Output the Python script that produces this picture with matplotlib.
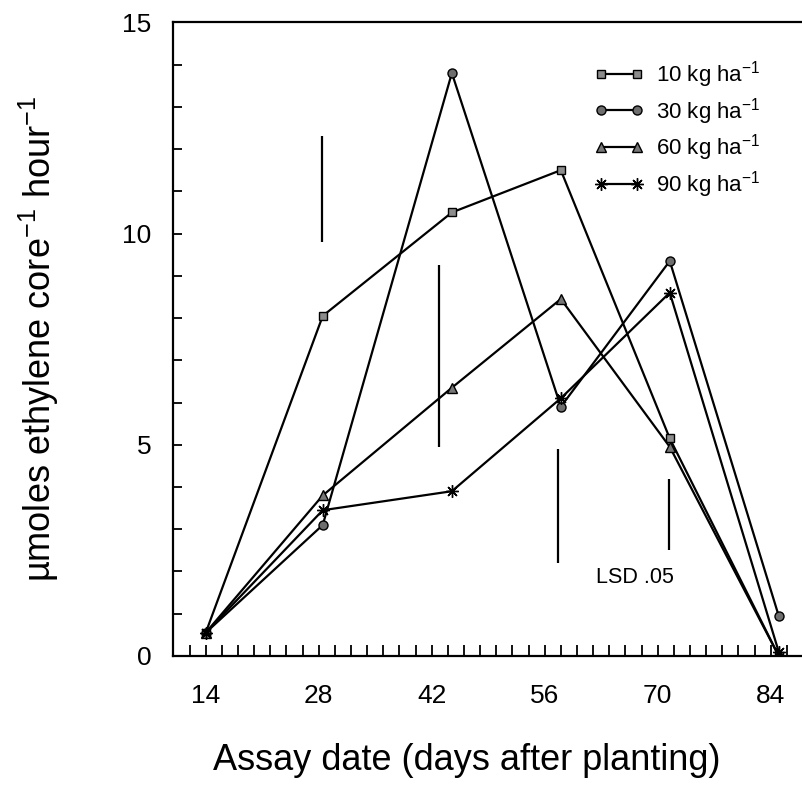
import numpy as np
import matplotlib
matplotlib.use('Agg')
import matplotlib.pyplot as plt
from matplotlib.ticker import MultipleLocator, FixedLocator

plt.rcParams['font.family'] = ['Liberation Sans', 'DejaVu Sans']
plt.rcParams['mathtext.fontset'] = 'custom'
plt.rcParams['mathtext.rm'] = 'Liberation Sans'
plt.rcParams['mathtext.it'] = 'Liberation Sans'

#%% data
days = [14, 28.5, 44.5, 58, 71.5, 85]
kg10 = [0.55, 8.05, 10.5, 11.5, 5.15, 0.0]
kg30 = [0.55, 3.1, 13.8, 5.9, 9.35, 0.95]
kg60 = [0.55, 3.8, 6.35, 8.45, 4.95, 0.0]
kg90 = [0.55, 3.45, 3.9, 6.1, 8.6, 0.1]
labels = ['10 kg ha$^{-1}$', '30 kg ha$^{-1}$', '60 kg ha$^{-1}$', '90 kg ha$^{-1}$']

# LSD .05 bars
lsd_x = [28.4, 42.9, 57.6, 71.4]
lsd_lo = [9.8, 4.95, 2.2, 2.5]
lsd_hi = [12.3, 9.25, 4.9, 4.2]

#%% figure
fig = plt.figure(figsize=(8.03, 7.98), dpi=100)
ax = fig.add_axes([0.216, 0.178, 0.803, 0.794])

styles = [('s', '#8c8c8c', 5.5), ('o', '#6e6e6e', 6.5), ('^', '#777777', 6.5), ((8, 2, 0), 'k', 9)]
for y, lab, (m, fc, ms) in zip([kg10, kg30, kg60, kg90], labels, styles):
    ax.plot(days, y, '-', color='k', lw=1.6, marker=m, ms=ms,
            mfc=fc, mec='k', mew=1.0, label=lab)

ax.vlines(lsd_x, lsd_lo, lsd_hi, color='k', lw=1.6)
ax.text(67.2, 1.85, 'LSD .05', ha='center', va='center', fontsize=15.5)

ax.set_xlim(10, 89.9)
ax.set_ylim(0, 15)

ax.xaxis.set_major_locator(FixedLocator([14, 28, 42, 56, 70, 84]))
ax.xaxis.set_minor_locator(MultipleLocator(2))
ax.yaxis.set_major_locator(MultipleLocator(5))
ax.yaxis.set_minor_locator(MultipleLocator(1))
ax.tick_params(axis='x', which='both', direction='in', length=8, width=1.3, pad=20, labelsize=19)
ax.tick_params(axis='y', which='both', direction='in', length=6.5, width=1.3, pad=16, labelsize=19)

for s in ['left', 'bottom', 'top']:
    ax.spines[s].set_linewidth(1.6)
ax.spines['right'].set_visible(False)

ax.set_xlabel('Assay date (days after planting)', fontsize=26)
ax.xaxis.set_label_coords(0.455, -0.138)
ax.set_ylabel('\u00b5moles ethylene core$^{-1}$ hour$^{-1}$', fontsize=26)
ax.yaxis.set_label_coords(-0.175, 0.5)

leg = ax.legend(loc='upper left', bbox_to_anchor=(0.652, 0.942), frameon=False,
                numpoints=2, handlelength=2.26, handletextpad=0.54,
                labelspacing=0.26, fontsize=16, borderaxespad=0, borderpad=0)

fig.savefig('out.png', dpi=100)
